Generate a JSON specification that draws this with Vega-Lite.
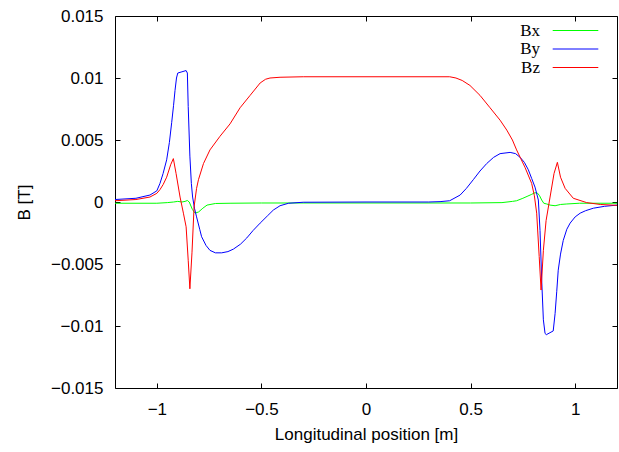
{
  "$schema": "https://vega.github.io/schema/vega-lite/v6.json",
  "width": 502,
  "height": 372,
  "autosize": {"type": "none"},
  "padding": {"left": 115, "top": 16, "right": 2, "bottom": 64},
  "background": "white",
  "config": {
    "view": {"stroke": "black", "strokeWidth": 1},
    "font": "Liberation Sans",
    "axis": {
      "grid": false,
      "domain": false,
      "tickColor": "black",
      "tickSize": -5,
      "tickWidth": 1,
      "labelFont": "Liberation Sans",
      "labelFontSize": 17,
      "labelColor": "black",
      "titleFont": "Liberation Sans",
      "titleFontSize": 17,
      "titleFontWeight": "normal",
      "titleColor": "black"
    }
  },
  "data": {"values": [
    {"x": -1.2, "B": -0.0001, "comp": "Bx"},
    {"x": -1.0, "B": -0.0001, "comp": "Bx"},
    {"x": -0.95, "B": -0.00005, "comp": "Bx"},
    {"x": -0.92, "B": 0.0, "comp": "Bx"},
    {"x": -0.9, "B": 0.00005, "comp": "Bx"},
    {"x": -0.88, "B": 0.0, "comp": "Bx"},
    {"x": -0.865, "B": 0.00005, "comp": "Bx"},
    {"x": -0.854, "B": 0.00012, "comp": "Bx"},
    {"x": -0.845, "B": 0.0, "comp": "Bx"},
    {"x": -0.83, "B": -0.0006, "comp": "Bx"},
    {"x": -0.817, "B": -0.0009, "comp": "Bx"},
    {"x": -0.8, "B": -0.0008, "comp": "Bx"},
    {"x": -0.78, "B": -0.0005, "comp": "Bx"},
    {"x": -0.76, "B": -0.00025, "comp": "Bx"},
    {"x": -0.72, "B": -0.00012, "comp": "Bx"},
    {"x": -0.65, "B": -0.0001, "comp": "Bx"},
    {"x": -0.5, "B": -0.00008, "comp": "Bx"},
    {"x": 0.0, "B": -0.00008, "comp": "Bx"},
    {"x": 0.5, "B": -0.00008, "comp": "Bx"},
    {"x": 0.65, "B": -0.00005, "comp": "Bx"},
    {"x": 0.7, "B": 0.00005, "comp": "Bx"},
    {"x": 0.72, "B": 0.0001, "comp": "Bx"},
    {"x": 0.75, "B": 0.0003, "comp": "Bx"},
    {"x": 0.77, "B": 0.00045, "comp": "Bx"},
    {"x": 0.79, "B": 0.0006, "comp": "Bx"},
    {"x": 0.808, "B": 0.00075, "comp": "Bx"},
    {"x": 0.821, "B": 0.0007, "comp": "Bx"},
    {"x": 0.83, "B": 0.0005, "comp": "Bx"},
    {"x": 0.84, "B": 0.00016, "comp": "Bx"},
    {"x": 0.85, "B": -0.0001, "comp": "Bx"},
    {"x": 0.864, "B": -0.00016, "comp": "Bx"},
    {"x": 0.88, "B": -0.00025, "comp": "Bx"},
    {"x": 0.904, "B": -0.0003, "comp": "Bx"},
    {"x": 0.93, "B": -0.0002, "comp": "Bx"},
    {"x": 0.96, "B": -0.00016, "comp": "Bx"},
    {"x": 1.02, "B": -0.0001, "comp": "Bx"},
    {"x": 1.2, "B": -0.0001, "comp": "Bx"},

    {"x": -1.2, "B": 0.0002, "comp": "By"},
    {"x": -1.1, "B": 0.0003, "comp": "By"},
    {"x": -1.033, "B": 0.00056, "comp": "By"},
    {"x": -1.0, "B": 0.0009, "comp": "By"},
    {"x": -0.985, "B": 0.0015, "comp": "By"},
    {"x": -0.97, "B": 0.0023, "comp": "By"},
    {"x": -0.953, "B": 0.0034, "comp": "By"},
    {"x": -0.94, "B": 0.0048, "comp": "By"},
    {"x": -0.929, "B": 0.0064, "comp": "By"},
    {"x": -0.92, "B": 0.0078, "comp": "By"},
    {"x": -0.913, "B": 0.009, "comp": "By"},
    {"x": -0.906, "B": 0.01, "comp": "By"},
    {"x": -0.9, "B": 0.0104, "comp": "By"},
    {"x": -0.88, "B": 0.0105, "comp": "By"},
    {"x": -0.86, "B": 0.0106, "comp": "By"},
    {"x": -0.854, "B": 0.0104, "comp": "By"},
    {"x": -0.85, "B": 0.0077, "comp": "By"},
    {"x": -0.842, "B": 0.0037, "comp": "By"},
    {"x": -0.835, "B": 0.0015, "comp": "By"},
    {"x": -0.829, "B": 0.0004, "comp": "By"},
    {"x": -0.82, "B": -0.0005, "comp": "By"},
    {"x": -0.81, "B": -0.0012, "comp": "By"},
    {"x": -0.795, "B": -0.0022, "comp": "By"},
    {"x": -0.786, "B": -0.0028, "comp": "By"},
    {"x": -0.765, "B": -0.0035, "comp": "By"},
    {"x": -0.746, "B": -0.0039, "comp": "By"},
    {"x": -0.72, "B": -0.0041, "comp": "By"},
    {"x": -0.69, "B": -0.0041, "comp": "By"},
    {"x": -0.66, "B": -0.004, "comp": "By"},
    {"x": -0.634, "B": -0.0038, "comp": "By"},
    {"x": -0.6, "B": -0.0034, "comp": "By"},
    {"x": -0.57, "B": -0.0029, "comp": "By"},
    {"x": -0.54, "B": -0.0023, "comp": "By"},
    {"x": -0.506, "B": -0.0017, "comp": "By"},
    {"x": -0.47, "B": -0.0011, "comp": "By"},
    {"x": -0.443, "B": -0.00065, "comp": "By"},
    {"x": -0.411, "B": -0.0003, "comp": "By"},
    {"x": -0.37, "B": -0.0001, "comp": "By"},
    {"x": -0.3, "B": -0.00002, "comp": "By"},
    {"x": 0.0, "B": 0.0, "comp": "By"},
    {"x": 0.3, "B": 0.0, "comp": "By"},
    {"x": 0.354, "B": 0.00003, "comp": "By"},
    {"x": 0.4, "B": 0.0001, "comp": "By"},
    {"x": 0.45, "B": 0.00056, "comp": "By"},
    {"x": 0.48, "B": 0.0011, "comp": "By"},
    {"x": 0.513, "B": 0.0018, "comp": "By"},
    {"x": 0.545, "B": 0.0025, "comp": "By"},
    {"x": 0.577, "B": 0.0031, "comp": "By"},
    {"x": 0.61, "B": 0.0036, "comp": "By"},
    {"x": 0.641, "B": 0.0039, "comp": "By"},
    {"x": 0.689, "B": 0.004, "comp": "By"},
    {"x": 0.715, "B": 0.0039, "comp": "By"},
    {"x": 0.737, "B": 0.0036, "comp": "By"},
    {"x": 0.757, "B": 0.0032, "comp": "By"},
    {"x": 0.776, "B": 0.0026, "comp": "By"},
    {"x": 0.792, "B": 0.0019, "comp": "By"},
    {"x": 0.808, "B": 0.0012, "comp": "By"},
    {"x": 0.824, "B": 0.00016, "comp": "By"},
    {"x": 0.832, "B": -0.0023, "comp": "By"},
    {"x": 0.84, "B": -0.0063, "comp": "By"},
    {"x": 0.848, "B": -0.0095, "comp": "By"},
    {"x": 0.856, "B": -0.0106, "comp": "By"},
    {"x": 0.862, "B": -0.0107, "comp": "By"},
    {"x": 0.895, "B": -0.0104, "comp": "By"},
    {"x": 0.904, "B": -0.009, "comp": "By"},
    {"x": 0.912, "B": -0.0072, "comp": "By"},
    {"x": 0.919, "B": -0.0055, "comp": "By"},
    {"x": 0.93, "B": -0.0042, "comp": "By"},
    {"x": 0.943, "B": -0.0031, "comp": "By"},
    {"x": 0.96, "B": -0.0022, "comp": "By"},
    {"x": 0.976, "B": -0.0017, "comp": "By"},
    {"x": 1.0, "B": -0.0012, "comp": "By"},
    {"x": 1.024, "B": -0.0009, "comp": "By"},
    {"x": 1.05, "B": -0.0007, "comp": "By"},
    {"x": 1.087, "B": -0.0005, "comp": "By"},
    {"x": 1.14, "B": -0.00035, "comp": "By"},
    {"x": 1.2, "B": -0.00025, "comp": "By"},

    {"x": -1.2, "B": 0.0001, "comp": "Bz"},
    {"x": -1.1, "B": 0.0002, "comp": "Bz"},
    {"x": -1.033, "B": 0.0004, "comp": "Bz"},
    {"x": -1.0, "B": 0.0007, "comp": "Bz"},
    {"x": -0.985, "B": 0.001, "comp": "Bz"},
    {"x": -0.97, "B": 0.0014, "comp": "Bz"},
    {"x": -0.953, "B": 0.002, "comp": "Bz"},
    {"x": -0.934, "B": 0.003, "comp": "Bz"},
    {"x": -0.921, "B": 0.0035, "comp": "Bz"},
    {"x": -0.908, "B": 0.0023, "comp": "Bz"},
    {"x": -0.889, "B": 0.0004, "comp": "Bz"},
    {"x": -0.873, "B": -0.0009, "comp": "Bz"},
    {"x": -0.86, "B": -0.002, "comp": "Bz"},
    {"x": -0.85, "B": -0.0047, "comp": "Bz"},
    {"x": -0.842, "B": -0.007, "comp": "Bz"},
    {"x": -0.832, "B": -0.0041, "comp": "Bz"},
    {"x": -0.822, "B": -0.0004, "comp": "Bz"},
    {"x": -0.81, "B": 0.0011, "comp": "Bz"},
    {"x": -0.801, "B": 0.0018, "comp": "Bz"},
    {"x": -0.777, "B": 0.0031, "comp": "Bz"},
    {"x": -0.746, "B": 0.0042, "comp": "Bz"},
    {"x": -0.698, "B": 0.0053, "comp": "Bz"},
    {"x": -0.65, "B": 0.0063, "comp": "Bz"},
    {"x": -0.602, "B": 0.0076, "comp": "Bz"},
    {"x": -0.554, "B": 0.0086, "comp": "Bz"},
    {"x": -0.506, "B": 0.0096, "comp": "Bz"},
    {"x": -0.48, "B": 0.0099, "comp": "Bz"},
    {"x": -0.459, "B": 0.01, "comp": "Bz"},
    {"x": -0.411, "B": 0.01006, "comp": "Bz"},
    {"x": -0.3, "B": 0.0101, "comp": "Bz"},
    {"x": 0.0, "B": 0.0101, "comp": "Bz"},
    {"x": 0.4, "B": 0.0101, "comp": "Bz"},
    {"x": 0.43, "B": 0.01, "comp": "Bz"},
    {"x": 0.46, "B": 0.0098, "comp": "Bz"},
    {"x": 0.497, "B": 0.0094, "comp": "Bz"},
    {"x": 0.545, "B": 0.0086, "comp": "Bz"},
    {"x": 0.593, "B": 0.0076, "comp": "Bz"},
    {"x": 0.641, "B": 0.0066, "comp": "Bz"},
    {"x": 0.673, "B": 0.0058, "comp": "Bz"},
    {"x": 0.7, "B": 0.005, "comp": "Bz"},
    {"x": 0.72, "B": 0.0042, "comp": "Bz"},
    {"x": 0.74, "B": 0.0035, "comp": "Bz"},
    {"x": 0.76, "B": 0.0028, "comp": "Bz"},
    {"x": 0.792, "B": 0.0015, "comp": "Bz"},
    {"x": 0.805, "B": 0.0005, "comp": "Bz"},
    {"x": 0.816, "B": -0.0009, "comp": "Bz"},
    {"x": 0.828, "B": -0.0044, "comp": "Bz"},
    {"x": 0.837, "B": -0.0071, "comp": "Bz"},
    {"x": 0.848, "B": -0.0039, "comp": "Bz"},
    {"x": 0.861, "B": -0.0015, "comp": "Bz"},
    {"x": 0.88, "B": 0.0004, "comp": "Bz"},
    {"x": 0.899, "B": 0.0023, "comp": "Bz"},
    {"x": 0.915, "B": 0.0032, "comp": "Bz"},
    {"x": 0.93, "B": 0.002, "comp": "Bz"},
    {"x": 0.952, "B": 0.0011, "comp": "Bz"},
    {"x": 0.991, "B": 0.0003, "comp": "Bz"},
    {"x": 1.055, "B": -0.00005, "comp": "Bz"},
    {"x": 1.12, "B": -0.0002, "comp": "Bz"},
    {"x": 1.2, "B": -0.00027, "comp": "Bz"}
  ]},
  "layer": [
    {
      "mark": {"type": "line", "strokeWidth": 1, "clip": true},
      "encoding": {
        "x": {"field": "x", "type": "quantitative",
              "scale": {"domain": [-1.2, 1.2], "nice": false, "zero": false},
              "axis": {"orient": "bottom", "values": [-1, -0.5, 0, 0.5, 1], "format": ".2~g",
                       "labelPadding": 18, "title": "Longitudinal position [m]", "titlePadding": 9}},
        "y": {"field": "B", "type": "quantitative",
              "scale": {"domain": [-0.015, 0.015], "nice": false, "zero": false},
              "axis": {"orient": "left", "values": [-0.015, -0.01, -0.005, 0, 0.005, 0.01, 0.015], "format": ".2~g",
                       "labelPadding": 17, "title": "B [T]", "titlePadding": 17}},
        "color": {"field": "comp", "type": "nominal",
                  "scale": {"domain": ["Bx", "By", "Bz"], "range": ["#00ff00", "#0000ff", "#ff0000"]},
                  "legend": {"title": null, "orient": "none", "legendX": 452, "legendY": 6,
                             "padding": 0, "rowPadding": 0.5,
                             "symbolType": "M-3.8,0H3.8", "symbolSize": 144, "symbolStrokeWidth": 1,
                             "labelAlign": "right", "labelOffset": -44,
                             "labelFont": "Liberation Serif", "labelFontSize": 17, "labelColor": "black"}}
      }
    },
    {
      "mark": {"type": "line", "strokeOpacity": 0},
      "encoding": {
        "x": {"field": "x", "type": "quantitative",
              "axis": {"orient": "top", "values": [-1, -0.5, 0, 0.5, 1], "labels": false, "title": null}},
        "y": {"field": "B", "type": "quantitative",
              "axis": {"orient": "right", "values": [-0.015, -0.01, -0.005, 0, 0.005, 0.01, 0.015], "labels": false, "title": null}},
        "detail": {"field": "comp", "type": "nominal"}
      }
    }
  ],
  "resolve": {"axis": {"x": "independent", "y": "independent"}}
}
